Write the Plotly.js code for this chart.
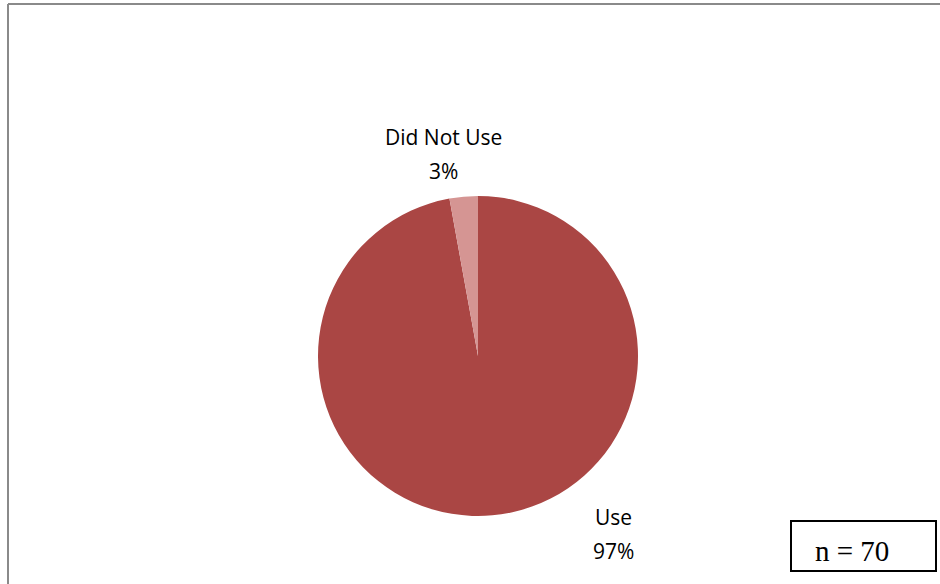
<!DOCTYPE html>
<html>
<head>
<meta charset="utf-8">
<script src="https://cdn.plot.ly/plotly-3.0.1.min.js"></script>
<style>html,body{margin:0;padding:0;background:#fff}#chart{width:940px;height:584px}</style>
</head>
<body>
<div id="chart"></div>
<script>
var categories = ["Use", "Did Not Use"];
var counts = [68, 2];
var percentLabels = ["97%", "3%"];
var sampleLabel = "n = 70";
var colors = ["#aa4644", "#d59593"];

var W = 940, H = 584;
function px(x){return x/W;}
function py(y){return 1 - y/H;}

var trace = {
  type: "pie",
  labels: categories,
  values: counts,
  sort: false,
  direction: "clockwise",
  rotation: 0,
  marker: {colors: colors, line: {width: 0}},
  textinfo: "none",
  hoverinfo: "label+percent",
  showlegend: false,
  domain: {x: [px(318), px(638)], y: [py(516), py(196)]}
};

var labelPos = [{x: 613, y1: 517, y2: 551}, {x: 443, y1: 137, y2: 171}];
var annotations = [];
categories.forEach(function(c, i){
  [[c, labelPos[i].y1], [percentLabels[i], labelPos[i].y2]].forEach(function(p){
    annotations.push({
      text: p[0],
      x: px(labelPos[i].x), y: py(p[1]),
      xref: "paper", yref: "paper", showarrow: false,
      xanchor: "center", yanchor: "middle",
      font: {family: "Open Sans, sans-serif", size: 21, color: "#000"}
    });
  });
});
annotations.push({
  text: sampleLabel,
  x: px(852), y: py(551),
  xref: "paper", yref: "paper", showarrow: false,
  xanchor: "center", yanchor: "middle",
  font: {family: "Liberation Serif, serif", size: 29, color: "#000"}
});

var layout = {
  width: W, height: H,
  margin: {l: 0, r: 0, t: 0, b: 0},
  paper_bgcolor: "#ffffff",
  annotations: annotations,
  shapes: [
    {type: "line", xref: "paper", yref: "paper", x0: px(8), x1: px(8), y0: py(4), y1: 0, line: {color: "#8a8a8a", width: 2}},
    {type: "line", xref: "paper", yref: "paper", x0: px(8), x1: 1, y0: py(4), y1: py(4), line: {color: "#8a8a8a", width: 2}},
    {type: "rect", xref: "paper", yref: "paper", x0: px(791), x1: px(936), y0: py(571), y1: py(521), line: {color: "#000", width: 2}, fillcolor: "rgba(0,0,0,0)"}
  ]
};

Plotly.newPlot("chart", [trace], layout, {displayModeBar: false, staticPlot: true});
</script>
</body>
</html>
